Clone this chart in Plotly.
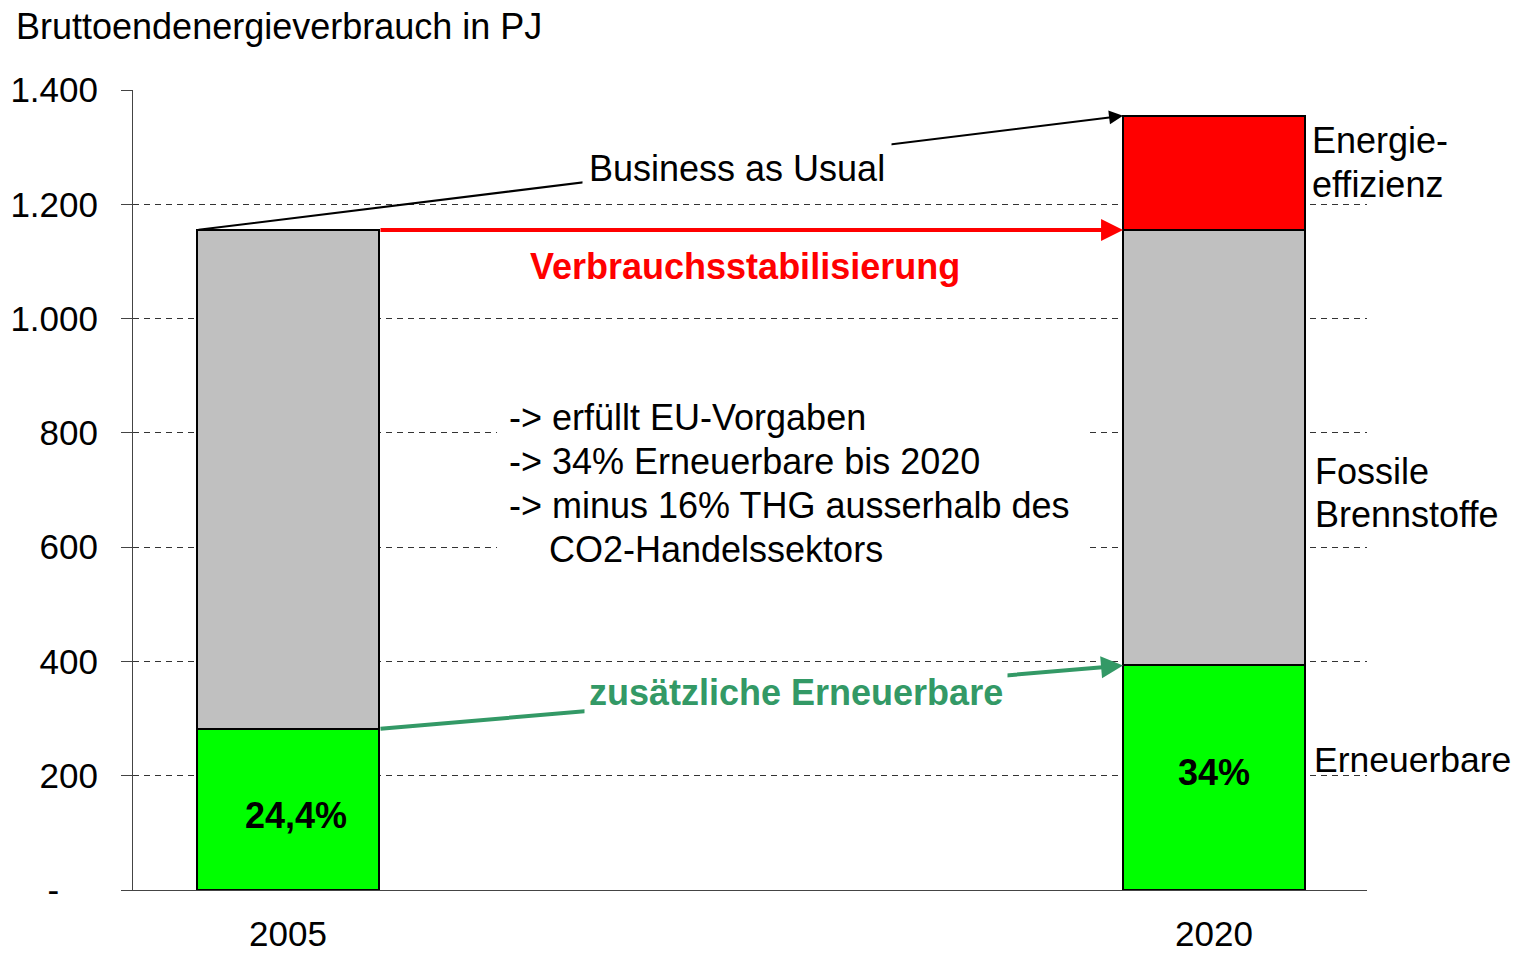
import plotly.graph_objects as go

# ---- data ----
years = ["2005", "2020"]
erneuerbare = [282, 393]
fossile = [873, 762]
effizienz = [None, 200]
share_labels = ["24,4%", "34%"]
y_tickvals = [0, 200, 400, 600, 800, 1000, 1200, 1400]
y_ticktext = ["-\u00a0\u00a0\u00a0\u00a0", "200", "400", "600", "800", "1.000", "1.200", "1.400"]
bullet_lines = ["-> erfüllt EU-Vorgaben", "-> 34% Erneuerbare bis 2020",
                "-> minus 16% THG ausserhalb des", "\u00a0\u00a0\u00a0\u00a0CO2-Handelssektors"]

FONT = "Liberation Sans, Arial, sans-serif"
FS = 36
TFS = 35
GREEN_TXT = "#339966"
xpos = [0, 1]
W = 0.1965  # bar width (x units)
FW, FH = 1519, 953

fig = go.Figure()
line = dict(color="black", width=2)
fig.add_trace(go.Bar(x=xpos, y=erneuerbare, width=W, marker=dict(color="#00FF00", line=line), name="Erneuerbare"))
fig.add_trace(go.Bar(x=xpos, y=fossile, width=W, marker=dict(color="#C0C0C0", line=line), name="Fossile"))
fig.add_trace(go.Bar(x=xpos, y=effizienz, width=W, marker=dict(color="#FF0000", line=line), name="Effizienz"))

tot05 = erneuerbare[0] + fossile[0]
tot20 = erneuerbare[1] + fossile[1]
bau20 = tot20 + effizienz[1]


def txt(x, y, text, color="black", size=FS, **kw):
    d = dict(x=x, y=y, xref="x", yref="y", text=text, showarrow=False,
             font=dict(family=FONT, size=size, color=color))
    d.update(kw)
    return d


ann = []
# Business as usual arrow
ann.append(dict(x=1 - W / 2, y=bau20, ax=0 - W / 2, ay=tot05, xref="x", yref="y", axref="x", ayref="y",
                text="", showarrow=True, arrowhead=2, arrowsize=1.4, arrowwidth=2, arrowcolor="black"))
ann.append(txt(0.4853, 1263, "Business as Usual", bgcolor="white", borderpad=6))
# stabilisation arrow
ann.append(dict(x=1 - W / 2, y=tot20, ax=0 + W / 2, ay=tot05, xref="x", yref="y", axref="x", ayref="y",
                text="", showarrow=True, arrowhead=2, arrowsize=1.1, arrowwidth=4, arrowcolor="#FF0000"))
ann.append(txt(0.4935, 1091, "<b>Verbrauchsstabilisierung</b>", color="#FF0000"))
# renewables arrow
ann.append(dict(x=1 - W / 2, y=erneuerbare[1], ax=0 + W / 2, ay=erneuerbare[0], xref="x", yref="y",
                axref="x", ayref="y", text="", showarrow=True, arrowhead=2, arrowsize=1.1, arrowwidth=4,
                arrowcolor=GREEN_TXT))
ann.append(txt(0.5481, 345, "<b>zusätzliche Erneuerbare</b>", color=GREEN_TXT, bgcolor="white", borderpad=4))
# bullet lines (white box behind via shape)
for ln, yv in zip(bullet_lines, [827, 750, 673, 596]):
    ann.append(txt(0.2365, yv, ln, xanchor="left", align="left"))
# shares
ann.append(txt(0, 131, "<b>" + share_labels[0] + "</b>", xshift=8))
ann.append(txt(1, 205, "<b>" + share_labels[1] + "</b>"))
# series labels on right
for t, yv, xs, sz in [("Energie-", 1312, 5, FS), ("effizienz", 1235, 5, FS), ("Fossile", 733, 8, FS),
                      ("Brennstoffe", 658, 8, FS), ("Erneuerbare", 227, 7, 35.5)]:
    ann.append(txt(1 + W / 2, yv, t, size=sz, xanchor="left", align="left", xshift=xs))

fig.update_layout(
    barmode="stack",
    width=FW, height=FH,
    margin=dict(l=133, r=1519 - 1367, t=90, b=953 - 890, autoexpand=False),
    paper_bgcolor="white", plot_bgcolor="white",
    showlegend=False,
    font=dict(family=FONT, size=FS, color="black"),
    title=dict(text="Bruttoendenergieverbrauch in PJ", x=16 / FW, xref="container",
               xanchor="left", y=1 - 26 / FH, yref="container", yanchor="middle",
               font=dict(family=FONT, size=FS, color="black")),
    annotations=ann,
    shapes=[dict(type="rect", xref="x", yref="y", x0=0.2257, x1=0.8607, y0=553, y1=868,
                 fillcolor="white", line=dict(width=0), layer="above")],
)
fig.update_xaxes(range=[-0.1674, 1.1652], tickvals=xpos, ticktext=years, showgrid=False, zeroline=False,
                 showline=True, linecolor="#444", linewidth=1, ticks="", ticklabelstandoff=13,
                 automargin=False, tickfont=dict(family=FONT, size=TFS, color="black"))
fig.update_yaxes(range=[0, 1400], tickvals=y_tickvals, ticktext=y_ticktext, showgrid=True,
                 gridcolor="#333", griddash="6px,5px", gridwidth=1, zeroline=False,
                 showline=True, linecolor="#444", linewidth=1, ticks="outside", ticklen=11, tickcolor="#444",
                 ticklabelstandoff=16, automargin=False, tickfont=dict(family=FONT, size=TFS, color="black"))

fig.write_html("out.html", config={"displayModeBar": False},
               post_script="document.body.style.margin='0px';document.body.style.overflow='hidden';")
